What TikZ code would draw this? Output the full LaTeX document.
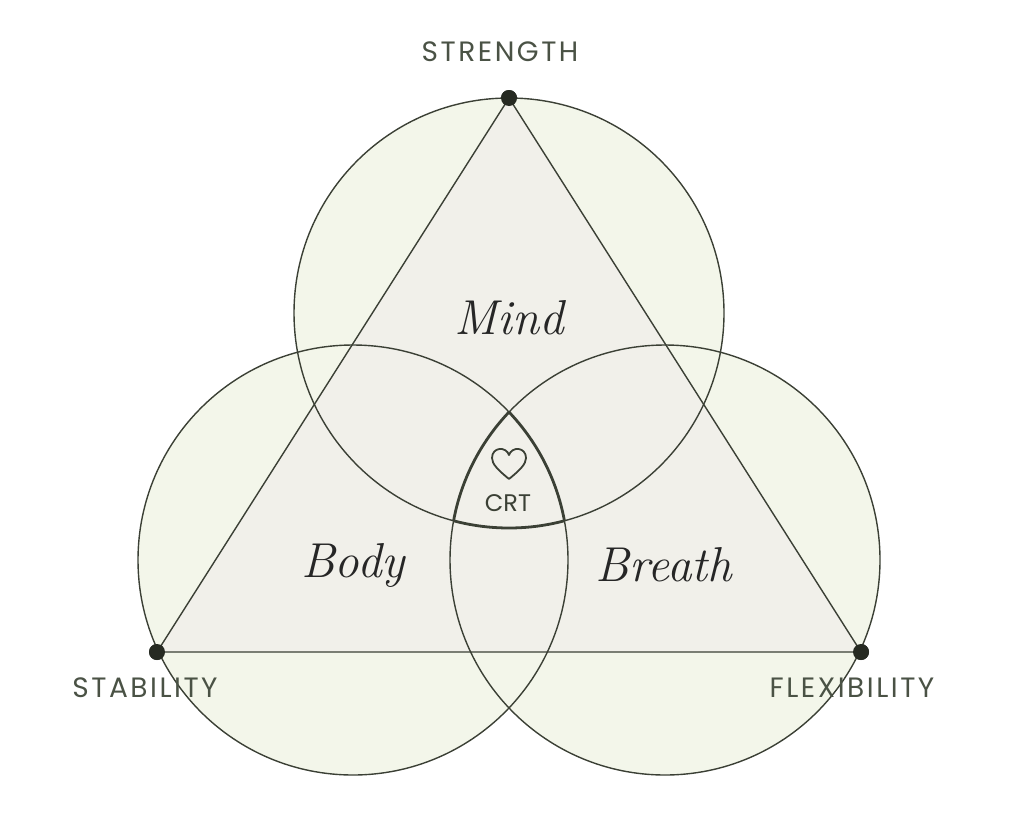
\documentclass[tikz,border=0pt]{standalone}
\usepackage{fontspec}
\newfontfamily\capsfont[LetterSpace=9]{Poppins}
\newfontfamily\crtfont{Poppins}
\usetikzlibrary{positioning}

\definecolor{circlefill}{HTML}{F3F6EA}
\definecolor{trianglefill}{HTML}{F1F0EA}
\definecolor{inkline}{HTML}{3B4035}
\definecolor{inktext}{HTML}{4A5245}
\definecolor{inkdot}{HTML}{262A22}

\tikzstyle{ring} = [draw=inkline, line width=1.4pt]
\tikzstyle{vertexdot} = [circle, fill=inkdot, inner sep=0pt, minimum size=16pt]
\tikzstyle{caps} = [text=inktext, font=\capsfont\fontsize{28}{32}\selectfont]
\tikzstyle{word} = [text=black!85, font=\itshape\fontsize{49}{56}\selectfont]

\begin{document}
\begin{tikzpicture}[x=1pt, y=-1pt]
        \useasboundingbox (0,0) rectangle (1024,819);
        \tikzset{core/.style={draw=inkline, line width=2.8pt}}
        % centres of the three circles and the triangle corners
        \coordinate (cmind) at (509,313);
        \coordinate (cbody) at (353,560);
        \coordinate (cbreath) at (665,560);
        \node (strength) at (509,98) [vertexdot] {};
        \node (stability) at (157,652) [vertexdot] {};
        \node (flexibility) at (861,652) [vertexdot] {};
        % fills
        \fill[circlefill] (cmind) circle[radius=215pt] (cbody) circle[radius=215pt] (cbreath) circle[radius=215pt];
        \fill[trianglefill] (strength.center) -- (stability.center) -- (flexibility.center) -- cycle;
        % outlines
        \draw[ring] (cmind) circle[radius=215pt];
        \draw[ring] (cbody) circle[radius=215pt];
        \draw[ring] (cbreath) circle[radius=215pt];
        \draw[ring] (strength.center) -- (stability.center) -- (flexibility.center) -- cycle;
        % heavier edge round the common part
        \begin{scope}
            \clip (cbody) circle[radius=215pt];
            \clip (cbreath) circle[radius=215pt];
            \draw[core] (cmind) circle[radius=215pt];
        \end{scope}
        \begin{scope}
            \clip (cmind) circle[radius=215pt];
            \clip (cbreath) circle[radius=215pt];
            \draw[core] (cbody) circle[radius=215pt];
        \end{scope}
        \begin{scope}
            \clip (cmind) circle[radius=215pt];
            \clip (cbody) circle[radius=215pt];
            \draw[core] (cbreath) circle[radius=215pt];
        \end{scope}
        \node (strength) at (509,98) [vertexdot] {};
        \node (stability) at (157,652) [vertexdot] {};
        \node (flexibility) at (861,652) [vertexdot] {};
        % heart
        \draw[inkline, line width=1.8pt, line join=round] (509,479) .. controls (498,470) and (492,464) .. (492,458) .. controls (492,447) and (506,446) .. (509,455) .. controls (512,446) and (526,447) .. (526,458) .. controls (526,464) and (520,470) .. (509,479);
        % labels
        \node (strengthlabel) at (500,52) [caps] {STRENGTH};
        \node (stabilitylabel) at (145,688) [caps] {STABILITY};
        \node (flexibilitylabel) at (852,688) [caps] {FLEXIBILITY};
        \node (crt) at (508,503) [text=inkline, font=\crtfont\fontsize{24}{28}\selectfont] {CRT};
        \node (mind) at (509,318) [word] {Mind};
        \node (body) at (353,565) [word] {Body};
        \node (breath) at (664,565) [word] {Breath};
    \end{tikzpicture}
\end{document}
